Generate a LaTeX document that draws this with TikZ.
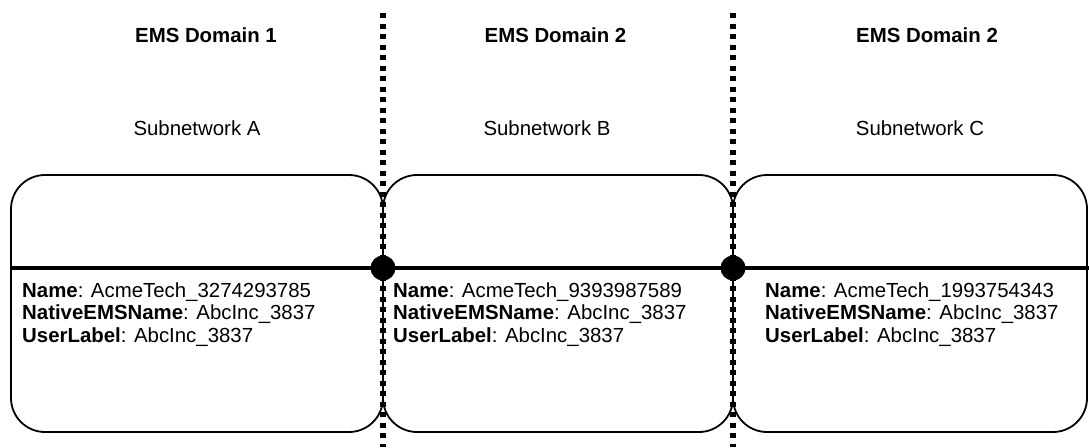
\documentclass[tikz,border=0pt]{standalone}
\usepackage{fontspec}
\setmainfont{Liberation Sans}
\begin{document}
\begin{tikzpicture}[x=1pt,y=-1pt,
  txt/.style={inner sep=0pt,anchor=base west,font=\fontsize{20.4}{22.8}\selectfont},
  head/.style={inner sep=0pt,anchor=base,font=\fontsize{20.4}{22.8}\selectfont\bfseries},
  subl/.style={inner sep=0pt,anchor=base,font=\fontsize{20.4}{22.8}\selectfont},
  subbox/.style={draw=black,line width=1.8pt,rounded corners=34pt,rectangle,inner sep=0pt,minimum height=257pt},
  border/.style={line width=5.5pt,dash pattern=on 5.3pt off 5.2pt},
  joint/.style={circle,fill=black,inner sep=0pt,minimum size=25pt},
  link/.style={line width=4pt}]
\useasboundingbox (0,0) rectangle (1089,447);
% boxes
\node[subbox,minimum width=372pt] (boxA) at (197,303.5) {};
\node[subbox,minimum width=350pt] (boxB) at (558,303.5) {};
\node[subbox,minimum width=354pt] (boxC) at (910,303.5) {};
% headings
\node[head] (h1) at (206,42) {EMS Domain 1};
\node[head] (h2) at (555.5,42) {EMS Domain 2};
\node[head] (h3) at (927,42) {EMS Domain 2};
\node[subl] (s1) at (197,135) {Subnetwork A};
\node[subl] (s2) at (547,135) {Subnetwork B};
\node[subl] (s3) at (920,135) {Subnetwork C};
% domain borders
\coordinate (d1t) at (383,13); \coordinate (d1b) at (383,447);
\coordinate (d2t) at (733,13); \coordinate (d2b) at (733,447);
\draw[border] (d1t) -- (d1b);
\draw[border] (d2t) -- (d2b);
% link
\coordinate (ls) at (11,268); \coordinate (le) at (1089,268);
\draw[link] (ls) -- (le);
\node[joint] (j1) at (383,268) {};
\node[joint] (j2) at (733,268) {};
% texts
\node[txt] (a1) at (22,297) {\textbf{Name}: AcmeTech\_3274293785};
\node[txt] (a2) at (22,319.8) {\textbf{NativeEMSName}: AbcInc\_3837};
\node[txt] (a3) at (22,342.6) {\textbf{UserLabel}: AbcInc\_3837};
\node[txt] (b1) at (393,297) {\textbf{Name}: AcmeTech\_9393987589};
\node[txt] (b2) at (393,319.8) {\textbf{NativeEMSName}: AbcInc\_3837};
\node[txt] (b3) at (393,342.6) {\textbf{UserLabel}: AbcInc\_3837};
\node[txt] (c1) at (765,297) {\textbf{Name}: AcmeTech\_1993754343};
\node[txt] (c2) at (765,319.8) {\textbf{NativeEMSName}: AbcInc\_3837};
\node[txt] (c3) at (765,342.6) {\textbf{UserLabel}: AbcInc\_3837};
\end{tikzpicture}
\end{document}
